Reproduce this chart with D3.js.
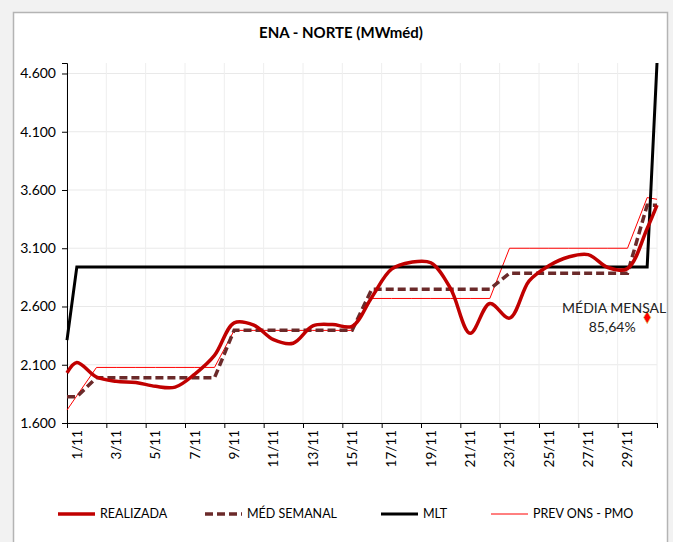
<!DOCTYPE html>
<html>
<head>
<meta charset="utf-8">
<script src="https://cdn.jsdelivr.net/npm/d3@7/dist/d3.min.js"></script>
<style>
	body { margin: 0; background: #f2f2f2; font-family: Lato, "Liberation Sans", sans-serif; }
	#chart-area { width: 673px; height: 542px; }
	.axis path, .axis line { stroke: #000; }
	.axis text { fill: #000; }
</style>
</head>
<body>
<div id="chart-area"></div>
<script>
// positions on the day axis (edges of the month at 0.5 and 30.5)
const dayPos = [0.5, 1, 2, 3, 4, 5, 6, 7, 8, 9, 10, 11, 12, 13, 14, 15, 16, 17, 18, 19, 20,
	21, 22, 23, 24, 25, 26, 27, 28, 29, 30, 30.5];

const realizada = [2030, 2120, 1995, 1958, 1948, 1915, 1908, 2020, 2180, 2460, 2440, 2315, 2285,
	2434, 2445, 2430, 2680, 2920, 2980, 2975, 2755, 2370, 2626, 2500, 2820, 2950, 3025, 3045, 2935,
	2925, 3270, 3470];

const medSemanal = [1826, 1826, 1988, 1988, 1988, 1988, 1988, 1988, 1988, 2397, 2397, 2397, 2397,
	2397, 2397, 2397, 2749, 2749, 2749, 2749, 2749, 2749, 2749, 2885, 2885, 2885, 2885, 2885, 2885,
	2885, 3470, 3470];

const mlt = [2311, 2940, 2940, 2940, 2940, 2940, 2940, 2940, 2940, 2940, 2940, 2940, 2940, 2940,
	2940, 2940, 2940, 2940, 2940, 2940, 2940, 2940, 2940, 2940, 2940, 2940, 2940, 2940, 2940, 2940,
	2940, 4690];

const prevOns = [1711, 1834, 2077, 2077, 2077, 2077, 2077, 2077, 2077, 2395, 2395, 2395, 2395, 2395,
	2395, 2395, 2669, 2669, 2669, 2669, 2669, 2669, 2669, 3100, 3100, 3100, 3100, 3100, 3100, 3100,
	3535, 3520];

const labelDays = [1, 3, 5, 7, 9, 11, 13, 15, 17, 19, 21, 23, 25, 27, 29];
const tickLabels = ["1/11", "3/11", "5/11", "7/11", "9/11", "11/11", "13/11", "15/11", "17/11",
	"19/11", "21/11", "23/11", "25/11", "27/11", "29/11"];
const tickBounds = [0.5, 2.5, 4.5, 6.5, 8.5, 10.5, 12.5, 14.5, 16.5, 18.5, 20.5, 22.5, 24.5, 26.5, 28.5, 30.5];
const yTicks = [1600, 2100, 2600, 3100, 3600, 4100, 4600];

const mediaDay = [30];
const mediaValue = [2506];
const mediaLabel = ["MÉDIA MENSAL", "85,64%"];

const margin = { left: 67, right: 16, top: 63, bottom: 119 };
const W = 673, H = 542;
const width = W - margin.left - margin.right,
	height = H - margin.top - margin.bottom;

var svg = d3.select("#chart-area")
	.append("svg")
	.attr("width", W)
	.attr("height", H);

// chart frame
svg.append("rect")
	.attr("x", 13.5).attr("y", 12.5)
	.attr("width", 654).attr("height", 545)
	.attr("fill", "#fff")
	.attr("stroke", "#b4b4b4")
	.attr("stroke-width", 1.5);

svg.append("text")
	.attr("x", 341).attr("y", 38)
	.attr("text-anchor", "middle")
	.attr("font-size", "15px")
	.attr("font-weight", "bold")
	.text("ENA - NORTE (MWméd)");

var g = svg.append("g")
	.attr("transform", `translate(${margin.left}, ${margin.top})`);

var x = d3.scaleLinear()
	.domain([0.5, 30.5])
	.range([0, width]);

var y = d3.scaleLinear()
	.domain([1600, 4690])
	.range([height, 0]);

// gridlines
g.append("g").selectAll("line")
	.data(yTicks)
	.enter().append("line")
	.attr("x1", 0).attr("x2", width)
	.attr("y1", d => y(d)).attr("y2", d => y(d))
	.attr("stroke", "#e9e9e9");

g.append("g").selectAll("line")
	.data(tickBounds)
	.enter().append("line")
	.attr("x1", d => x(d)).attr("x2", d => x(d))
	.attr("y1", 0).attr("y2", height)
	.attr("stroke", "#eeeeee");

// axes
var yAxisCall = d3.axisLeft(y)
	.tickValues(yTicks)
	.tickSize(5)
	.tickPadding(6)
	.tickFormat(d => d3.format(",")(d).replace(",", "."));

g.append("g")
	.attr("class", "y axis")
	.call(yAxisCall)
	.call(a => a.selectAll("text").attr("font-size", "14px").attr("font-family", "Lato"));

var xAxisCall = d3.axisBottom(x)
	.tickValues(tickBounds)
	.tickSize(5)
	.tickFormat("");

g.append("g")
	.attr("class", "x axis")
	.attr("transform", `translate(0, ${height})`)
	.call(xAxisCall);

g.append("g").selectAll("text")
	.data(labelDays)
	.enter().append("text")
	.attr("transform", d => `translate(${x(d)}, ${height + 7}) rotate(-90)`)
	.attr("text-anchor", "end")
	.attr("dy", "0.35em")
	.attr("font-size", "13.5px")
	.text((d, i) => tickLabels[i]);

// series
function seriesLine(values, curve) {
	return d3.line()
		.x((d, i) => x(dayPos[i]))
		.y(d => y(d))
		.curve(curve)(values);
}

g.append("path")
	.attr("d", seriesLine(prevOns, d3.curveLinear))
	.attr("fill", "none")
	.attr("stroke", "#ff0000")
	.attr("stroke-width", 1);

g.append("path")
	.attr("d", seriesLine(mlt, d3.curveLinear))
	.attr("fill", "none")
	.attr("stroke", "#000")
	.attr("stroke-width", 3);

g.append("path")
	.attr("d", seriesLine(medSemanal, d3.curveLinear))
	.attr("fill", "none")
	.attr("stroke", "#6b2a2a")
	.attr("stroke-width", 3.5)
	.attr("stroke-dasharray", "8,4");

g.append("path")
	.attr("d", seriesLine(realizada, d3.curveCatmullRom.alpha(0.5)))
	.attr("fill", "none")
	.attr("stroke", "#c00000")
	.attr("stroke-width", 3.5);

// monthly mean marker + label
var mx = x(mediaDay[0]), my = y(mediaValue[0]);
g.append("path")
	.attr("transform", `translate(${mx}, ${my})`)
	.attr("d", d3.symbol(d3.symbolDiamond).size(45)())
	.attr("fill", "#ff0000")
	.attr("stroke", "#d8d870")
	.attr("stroke-width", 0.7);

g.append("text")
	.attr("x", mx - 33).attr("y", my - 4)
	.attr("text-anchor", "middle")
	.attr("font-size", "14px")
	.attr("fill", "#222")
	.text(mediaLabel[0]);

g.append("text")
	.attr("x", mx - 35).attr("y", my + 15)
	.attr("text-anchor", "middle")
	.attr("font-size", "14px")
	.attr("fill", "#222")
	.text(mediaLabel[1]);

// legend
var legendItems = [
	{ name: "REALIZADA", x: 58, color: "#c00000", w: 3.5, dash: null },
	{ name: "MÉD SEMANAL", x: 205, color: "#6b2a2a", w: 3.5, dash: "8,4" },
	{ name: "MLT", x: 381, color: "#000", w: 3, dash: null },
	{ name: "PREV ONS - PMO", x: 491, color: "#ff0000", w: 1, dash: null }
];

var legend = svg.append("g").attr("transform", "translate(0, 514)");
legendItems.forEach(v => {
	legend.append("line")
		.attr("x1", v.x).attr("x2", v.x + 37)
		.attr("y1", 0).attr("y2", 0)
		.attr("stroke", v.color)
		.attr("stroke-width", v.w)
		.attr("stroke-dasharray", v.dash);
	legend.append("text")
		.attr("x", v.x + 42)
		.attr("dy", "0.35em")
		.attr("font-size", "12.5px")
		.text(v.name);
});
</script>
</body>
</html>
